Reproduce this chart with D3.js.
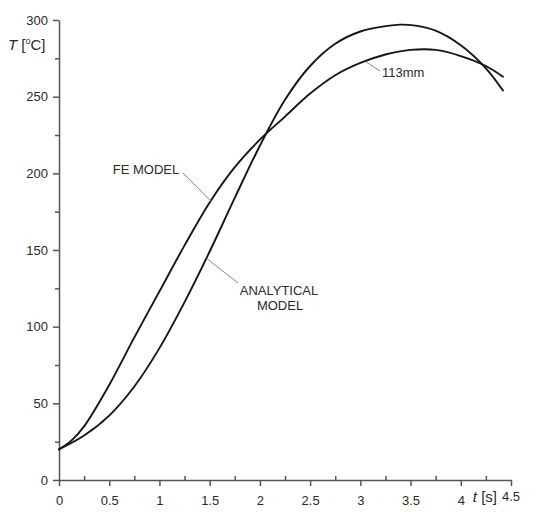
<!DOCTYPE html>
<html>
<head>
<meta charset="utf-8">
<script src="https://cdn.jsdelivr.net/npm/d3@7"></script>
<style>
    body { margin: 0; background: #fff; }
    text { font-family: "Liberation Sans", Arial, sans-serif; fill: #2a2a2a; }
</style>
</head>
<body>
<svg id="chart" width="537" height="514"></svg>
<script>
// time [s] and temperature [°C]
let feTime   = [0, 0.12, 0.25, 0.5, 0.75, 1.0, 1.25, 1.5, 1.75, 2.0, 2.25, 2.5, 2.75, 3.0, 3.25, 3.5, 3.75, 4.0, 4.25, 4.42];
let feTemp   = [20, 25.5, 35, 62, 93, 123, 153, 181, 204, 222, 237, 252, 264, 272, 277.5, 280.5, 280.5, 276.5, 270, 263];

let anaTime  = [0, 0.25, 0.5, 0.75, 1.0, 1.25, 1.5, 1.75, 2.0, 2.25, 2.5, 2.75, 3.0, 3.25, 3.4, 3.55, 3.75, 4.0, 4.25, 4.42];
let anaTemp  = [20, 29, 42, 61, 86, 116, 149, 184, 218, 248, 270, 284.5, 292.5, 296, 297, 296.3, 293, 283.5, 268.5, 254];

let xTicks = [0, 0.5, 1, 1.5, 2, 2.5, 3, 3.5, 4, 4.5];
let xTickLabels = ["0", "0.5", "1", "1.5", "2", "2.5", "3", "3.5", "4", "4.5"];
let yTicks = [0, 50, 100, 150, 200, 250, 300];

let svg = d3.select("#chart"),
    margin = {top: 20, left: 59},
    width = 452,
    height = 460;

let x = d3.scaleLinear().domain([0, 4.5]).range([0, width]);
let y = d3.scaleLinear().domain([0, 300]).range([height, 0]);

let g = svg.append("g")
    .attr("transform", "translate(" + margin.left + "," + margin.top + ")");

// minor ticks (x: inward, y: outward)
let xMinor = d3.range(0.25, 4.5, 0.5);
let yMinor = d3.range(25, 300, 50);

g.append("g")
    .attr("class", "axis axis--x")
    .attr("transform", "translate(0," + height + ")")
    .call(d3.axisBottom(x).tickValues(xTicks).tickSize(6).tickSizeOuter(0)
        .tickFormat((d, i) => i === xTicks.length - 1 ? "" : xTickLabels[i]))
    .call(a => a.selectAll(".tick text").attr("dy", "1.25em"));

g.append("g")
    .attr("transform", "translate(0," + height + ")")
    .call(d3.axisTop(x).tickValues(xMinor).tickSize(4).tickFormat(""))
    .call(a => a.select(".domain").remove());

g.append("g")
    .attr("class", "axis axis--y")
    .call(d3.axisLeft(y).tickValues(yTicks).tickSize(6).tickSizeOuter(0).tickPadding(5));

g.append("g")
    .call(d3.axisLeft(y).tickValues(yMinor).tickSize(4).tickFormat(""))
    .call(a => a.select(".domain").remove());

svg.selectAll(".domain, .tick line")
    .attr("stroke", "#555")
    .attr("stroke-width", 1.5);
svg.selectAll(".tick text")
    .attr("font-size", 13)
    .attr("font-family", "Liberation Sans, Arial, sans-serif")
    .attr("fill", "#2a2a2a");

// last x label sits after the "t [s]" title
g.append("text")
    .attr("x", x(4.5))
    .attr("y", height + 21)
    .attr("text-anchor", "middle")
    .attr("font-size", 13)
    .text("4.5");

let xTitle = g.append("text")
    .attr("x", x(4.12))
    .attr("y", height + 22)
    .attr("font-size", 15);
xTitle.append("tspan").attr("font-style", "italic").text("t");
xTitle.append("tspan").text(" [s]");

let yTitle = svg.append("text")
    .attr("x", 8)
    .attr("y", 50)
    .attr("font-size", 15);
yTitle.append("tspan").attr("font-style", "italic").text("T");
yTitle.append("tspan").text(" [");
yTitle.append("tspan").attr("font-size", 9).attr("dy", -6).text("o");
yTitle.append("tspan").attr("dy", 6).text("C]");

// curves
let valueline = d3.line()
    .x(d => x(d[0]))
    .y(d => y(d[1]))
    .curve(d3.curveCatmullRom);

let feData = d3.zip(feTime, feTemp);
let anaData = d3.zip(anaTime, anaTemp);

[feData, anaData].forEach(data => {
    g.append("path")
        .datum(data)
        .attr("fill", "none")
        .attr("stroke", "#151515")
        .attr("stroke-width", 1.9)
        .attr("stroke-linejoin", "round")
        .attr("stroke-linecap", "round")
        .attr("d", valueline);
});

// annotations with leader lines
function leader(t, T, x2, y2) {
    g.append("line")
        .attr("x1", x(t)).attr("y1", y(T))
        .attr("x2", x2 - margin.left).attr("y2", y2 - margin.top)
        .attr("stroke", "#888")
        .attr("stroke-width", 1);
}

leader(1.51, 182, 183, 173);
svg.append("text")
    .attr("x", 146).attr("y", 174)
    .attr("text-anchor", "middle")
    .attr("font-size", 13)
    .text("FE MODEL");

leader(1.47, 144.5, 238, 283);
svg.append("text")
    .attr("x", 279).attr("y", 295)
    .attr("text-anchor", "middle")
    .attr("font-size", 13)
    .text("ANALYTICAL");
svg.append("text")
    .attr("x", 280).attr("y", 310)
    .attr("text-anchor", "middle")
    .attr("font-size", 13)
    .text("MODEL");

leader(3.06, 272.5, 380, 71);
svg.append("text")
    .attr("x", 382).attr("y", 77)
    .attr("font-size", 13)
    .text("113mm");
</script>
</body>
</html>
